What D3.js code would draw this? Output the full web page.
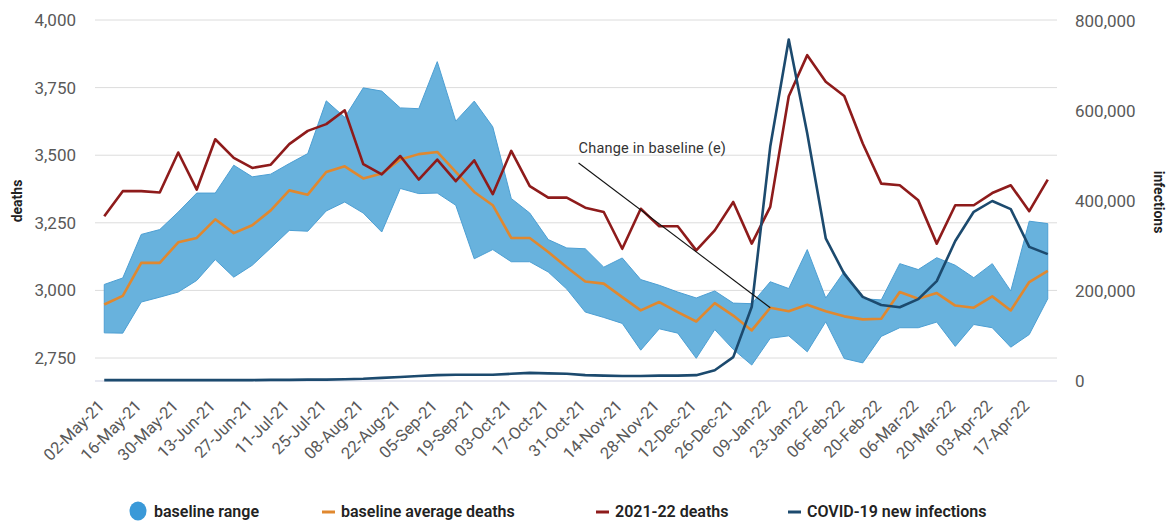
<!DOCTYPE html>
<html><head><meta charset="utf-8">
<script src="https://cdn.jsdelivr.net/npm/d3@7/dist/d3.min.js"></script>
<style>
html,body{margin:0;padding:0;background:#fff;}
svg{display:block;font-family:Roboto,"Noto Sans",sans-serif;}
</style></head>
<body>
<svg id="chart" width="1167" height="521"></svg>
<script>
const weeks = ["02-May-21","09-May-21","16-May-21","23-May-21","30-May-21","06-Jun-21","13-Jun-21","20-Jun-21","27-Jun-21","04-Jul-21","11-Jul-21","18-Jul-21","25-Jul-21","01-Aug-21","08-Aug-21","15-Aug-21","22-Aug-21","29-Aug-21","05-Sep-21","12-Sep-21","19-Sep-21","26-Sep-21","03-Oct-21","10-Oct-21","17-Oct-21","24-Oct-21","31-Oct-21","07-Nov-21","14-Nov-21","21-Nov-21","28-Nov-21","05-Dec-21","12-Dec-21","19-Dec-21","26-Dec-21","02-Jan-22","09-Jan-22","16-Jan-22","23-Jan-22","30-Jan-22","06-Feb-22","13-Feb-22","20-Feb-22","27-Feb-22","06-Mar-22","13-Mar-22","20-Mar-22","27-Mar-22","03-Apr-22","10-Apr-22","17-Apr-22","24-Apr-22"];
const tickLabels = weeks.filter((d, i) => i % 2 === 0);

const baselineUpper = [3022,3046,3207,3225,3290,3360,3360,3463,3420,3430,3469,3506,3701,3640,3749,3737,3675,3672,3846,3626,3700,3605,3340,3286,3188,3157,3154,3086,3120,3040,3019,2994,2972,2998,2953,2951,3032,3007,3151,2972,3070,2969,2965,3099,3077,3121,3093,3047,3099,2998,3256,3247];
const baselineLower = [2843,2842,2957,2975,2994,3037,3114,3049,3093,3157,3222,3219,3294,3327,3286,3216,3377,3358,3360,3315,3117,3151,3106,3106,3068,3005,2920,2900,2878,2779,2858,2842,2749,2855,2782,2724,2823,2832,2773,2884,2748,2732,2830,2862,2862,2883,2793,2874,2862,2790,2837,2969];
const baselineAverage = [2948,2980,3102,3102,3178,3194,3263,3212,3241,3296,3370,3354,3438,3459,3414,3432,3484,3504,3512,3438,3364,3315,3194,3194,3142,3086,3033,3025,2975,2926,2957,2920,2885,2953,2907,2852,2936,2923,2947,2923,2904,2893,2895,2994,2969,2990,2944,2936,2978,2926,3031,3072];
const deaths2122 = [3274,3367,3367,3362,3510,3373,3559,3490,3453,3465,3541,3590,3615,3666,3467,3429,3497,3410,3484,3404,3481,3356,3516,3386,3343,3343,3306,3290,3154,3302,3237,3237,3148,3222,3327,3173,3309,3718,3870,3772,3719,3543,3395,3389,3333,3173,3315,3315,3360,3389,3293,3410];
const newInfections = [2000,2000,2000,2000,2000,2000,2000,2000,2000,2500,2500,3000,3000,4000,5000,7000,9000,11000,13000,14000,14000,14000,16000,18000,17000,16000,13000,12000,11000,11000,12000,12000,13000,24000,53000,165000,521000,759000,550000,317000,238000,187000,169000,164000,182000,222000,311000,376000,400000,382000,298000,282000];

const leftTicks = [2750,3000,3250,3500,3750,4000];
const rightTicks = [0,200000,400000,600000,800000];

const svg = d3.select("#chart");
const plotL = 95, plotR = 1057, plotT = 20, plotB = 381;

const x = d3.scalePoint().domain(weeks).range([plotL, plotR]).padding(0.5);
const yL = d3.scaleLinear().domain([2665, 4000]).range([plotB, plotT]);
const yR = d3.scaleLinear().domain([0, 800000]).range([plotB, 21]);
const fmt = d3.format(",");

// gridlines
svg.append("g").selectAll("line").data(leftTicks).join("line")
  .attr("x1", plotL).attr("x2", plotR)
  .attr("y1", d => yL(d)).attr("y2", d => yL(d))
  .attr("stroke", "#dcdcdc").attr("stroke-width", 1);
svg.append("line").attr("x1", plotL).attr("x2", plotR)
  .attr("y1", plotB).attr("y2", plotB).attr("stroke", "#cfd2e3").attr("stroke-width", 1.2);

// left axis labels
const gl = svg.append("g").attr("transform", `translate(76,0)`)
  .call(d3.axisLeft(yL).tickValues(leftTicks).tickFormat(fmt).tickSize(0).tickPadding(0));
gl.select(".domain").remove();
gl.selectAll("text").attr("fill", "#595959").style("font-size", "17px").style("font-family", "Roboto");

// right axis labels
const gr = svg.append("g").attr("transform", `translate(1075,0)`)
  .call(d3.axisRight(yR).tickValues(rightTicks).tickFormat(fmt).tickSize(0).tickPadding(0));
gr.select(".domain").remove();
gr.selectAll("text").attr("fill", "#595959").style("font-size", "17px").style("font-family", "Roboto");

// x labels
svg.append("g").selectAll("text").data(tickLabels).join("text")
  .attr("transform", d => `translate(${x(d) + 1},407) rotate(-45)`)
  .attr("text-anchor", "end")
  .attr("fill", "#595959").style("font-size", "16.5px")
  .text(d => d);

const idx = weeks.map((d, i) => i);

// baseline range area
svg.append("path").datum(idx)
  .attr("d", d3.area().x(i => x(weeks[i])).y0(i => yL(baselineLower[i])).y1(i => yL(baselineUpper[i])))
  .attr("fill", "#68b2dd").attr("stroke", "#4d9fd3").attr("stroke-width", 1);

// baseline average
svg.append("path").datum(idx)
  .attr("d", d3.line().x(i => x(weeks[i])).y(i => yL(baselineAverage[i])))
  .attr("fill", "none").attr("stroke", "#e0882f").attr("stroke-width", 2.6).attr("stroke-linejoin", "round");

// 2021-22 deaths
svg.append("path").datum(idx)
  .attr("d", d3.line().x(i => x(weeks[i])).y(i => yL(deaths2122[i])))
  .attr("fill", "none").attr("stroke", "#8e1b1b").attr("stroke-width", 2.6).attr("stroke-linejoin", "round");

// infections
svg.append("path").datum(idx)
  .attr("d", d3.line().x(i => x(weeks[i])).y(i => yR(newInfections[i])))
  .attr("fill", "none").attr("stroke", "#1c4a6e").attr("stroke-width", 2.6).attr("stroke-linejoin", "round");

// annotation
const annEndWeek = "09-Jan-22";
const annStartX = x(weeks[25]) + 0.64 * x.step();
const annStartY = yL(3471);
svg.append("line")
  .attr("x1", annStartX).attr("y1", annStartY)
  .attr("x2", x(annEndWeek)).attr("y2", yL(baselineAverage[weeks.indexOf(annEndWeek)]))
  .attr("stroke", "#111").attr("stroke-width", 1.1);
svg.append("text").attr("x", annStartX).attr("y", annStartY - 10)
  .attr("fill", "#333").style("font-size", "14.5px").style("letter-spacing", "0.2px")
  .text("Change in baseline (e)");

// axis titles
svg.append("text").attr("transform", "translate(22,201) rotate(-90)")
  .attr("text-anchor", "middle").attr("fill", "#222")
  .style("font-size", "14px").style("font-weight", "700").text("deaths");
svg.append("text").attr("transform", "translate(1154,202) rotate(90)")
  .attr("text-anchor", "middle").attr("fill", "#222")
  .style("font-size", "14px").style("font-weight", "700").text("infections");

// legend
const lg = svg.append("g").style("font-size", "16px").style("font-weight", "600").attr("fill", "#222");
lg.append("ellipse").attr("cx", 138).attr("cy", 511).attr("rx", 8.5).attr("ry", 9.5).attr("fill", "#3a99d8");
lg.append("text").attr("x", 154).attr("y", 517).text("baseline range");
const legendLines = [
  {x: 322, color: "#e0882f", label: "baseline average deaths"},
  {x: 596, color: "#8e1b1b", label: "2021-22 deaths"},
  {x: 788, color: "#1c4a6e", label: "COVID-19 new infections"}
];
legendLines.forEach(l => {
  lg.append("line").attr("x1", l.x).attr("x2", l.x + 13).attr("y1", 512).attr("y2", 512)
    .attr("stroke", l.color).attr("stroke-width", 3);
  lg.append("text").attr("x", l.x + 19).attr("y", 517).text(l.label);
});
</script>
</body></html>
